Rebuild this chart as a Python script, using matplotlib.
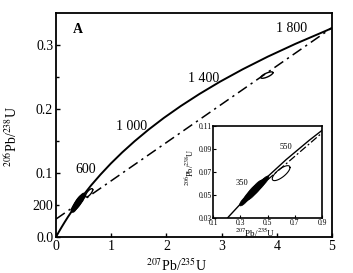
import numpy as np
import matplotlib.pyplot as plt

plt.rcParams['font.family'] = ['Liberation Serif', 'DejaVu Serif']
plt.rcParams['mathtext.fontset'] = 'stix'

# concordia points (207Pb/235U, 206Pb/238U), every 100 Ma
conc_x = [0.0, 0.0505, 0.1035, 0.1592, 0.2177, 0.3438, 0.4828, 0.6362, 0.8056, 0.9925,
          1.1987, 1.4264, 1.6774, 1.9546, 2.2603, 2.5975, 2.9700, 3.3811, 3.8344,
          4.3349, 4.8868, 5.1500]
conc_y = [0.0, 0.0078, 0.0156, 0.0235, 0.0315, 0.0476, 0.0640, 0.0807, 0.0975, 0.1147,
          0.1321, 0.1498, 0.1678, 0.1861, 0.2046, 0.2234, 0.2426, 0.2620, 0.2817,
          0.3017, 0.3221, 0.3322]

# discordia chord
disc_x = [0.0, 5.0]
disc_y = [0.028, 0.327]
inset_disc_x = [0.42, 0.9]
inset_disc_y = [0.055, 0.104]

# age labels on the concordia
main_ages = ['600', '1 000', '1 400', '1 800']
main_age_x = [0.72, 1.65, 2.95, 4.55]
main_age_y = [0.095, 0.163, 0.238, 0.316]
inset_ages = ['350', '550']
inset_age_x = [0.36, 0.68]
inset_age_y = [0.057, 0.088]

# analysis spots: centre, 1-sigma x, 1-sigma y
spot_x = [0.33, 0.36, 0.39, 0.42, 0.45, 0.475]
spot_y = [0.045, 0.049, 0.0525, 0.056, 0.059, 0.062]
spot_sx = [0.035, 0.04, 0.05, 0.05, 0.04, 0.035]
spot_sy = [0.0045, 0.0055, 0.007, 0.007, 0.0055, 0.0045]
open_x = [0.60, 3.82]
open_y = [0.069, 0.253]
open_sx = [0.065, 0.11]
open_sy = [0.0065, 0.005]


def ellipse(cx, cy, sx, sy, r, n=80):
    t = np.linspace(0, 2 * np.pi, n)
    return cx + sx * np.cos(t), cy + sy * (r * np.cos(t) + np.sqrt(1 - r ** 2) * np.sin(t))


def draw_spots(ax, lw, edge):
    for cx, cy, sx, sy in zip(spot_x, spot_y, spot_sx, spot_sy):
        ex, ey = ellipse(cx, cy, sx, sy, 0.8)
        ax.fill(ex, ey, facecolor='black', edgecolor='black', lw=edge)
    for cx, cy, sx, sy in zip(open_x, open_y, open_sx, open_sy):
        ex, ey = ellipse(cx, cy, sx, sy, 0.75)
        ax.plot(ex, ey, color='black', lw=lw)


fig = plt.figure(figsize=(3.53, 2.73), dpi=100)
ax = fig.add_axes([0.1586, 0.1319, 0.7819, 0.8205])

ax.plot(conc_x, conc_y, color='black', lw=1.4)
ax.plot(disc_x, disc_y, color='black', lw=1.1, ls=(0, (7, 3, 1.5, 3)))
draw_spots(ax, 1.0, 2.5)
for lab, x, y in zip(main_ages, main_age_x, main_age_y):
    ax.text(x, y, lab, ha='right', va='bottom', fontsize=10)
ax.text(-0.05, 0.047, '200', ha='right', va='center', fontsize=10, clip_on=False)
ax.text(0.3, 0.335, 'A', ha='left', va='top', fontsize=10, fontweight='bold')

ax.set_xlim(0, 5)
ax.set_ylim(0, 0.35)
ax.set_xticks([0, 1, 2, 3, 4, 5])
ax.set_yticks([0.0, 0.1, 0.2, 0.3])
ax.set_yticklabels(['0.0', '0.1', '0.2', '0.3'])
ax.set_yticks([0.05, 0.15, 0.25], minor=True)
ax.tick_params(direction='in', labelsize=10, length=3, width=1, pad=2)
ax.tick_params(which='minor', direction='in', length=2, width=1)
for s in ax.spines.values():
    s.set_linewidth(1.3)
ax.set_xlabel(r'$^{207}$Pb/$^{235}$U', fontsize=10)
ax.xaxis.set_label_coords(0.435, -0.09)
ax.set_ylabel(r'$^{206}$Pb/$^{238}$U', fontsize=10)
ax.yaxis.set_label_coords(-0.13, 0.45)

# inset
ins = fig.add_axes([0.6034, 0.2015, 0.3088, 0.337])
ins.plot(conc_x, conc_y, color='black', lw=1.0)
ins.plot(inset_disc_x, inset_disc_y, color='black', lw=0.9, ls=(0, (6, 2, 1.5, 2)))
draw_spots(ins, 0.8, 0.5)
for lab, x, y in zip(inset_ages, inset_age_x, inset_age_y):
    ins.text(x, y, lab, ha='right', va='bottom', fontsize=6)
ins.set_xlim(0.1, 0.9)
ins.set_ylim(0.03, 0.11)
ins.set_xticks([0.1, 0.3, 0.5, 0.7, 0.9])
ins.set_xticklabels(['0.1', '0.3', '0.5', '0.7', '0.9'])
ins.set_yticks([0.03, 0.05, 0.07, 0.09, 0.11])
ins.set_yticklabels(['0.03', '0.05', '0.07', '0.09', '0.11'])
ins.tick_params(direction='in', labelsize=5.5, length=2, width=0.8, pad=1)
for s in ins.spines.values():
    s.set_linewidth(1.2)
ins.set_xlabel(r'$^{207}$Pb/$^{235}$U', fontsize=6.5)
ins.xaxis.set_label_coords(0.39, -0.1)
ins.set_ylabel(r'$^{206}$Pb/$^{238}$U', fontsize=6)
ins.yaxis.set_label_coords(-0.16, 0.55)

fig.savefig('out.png', dpi=100)
